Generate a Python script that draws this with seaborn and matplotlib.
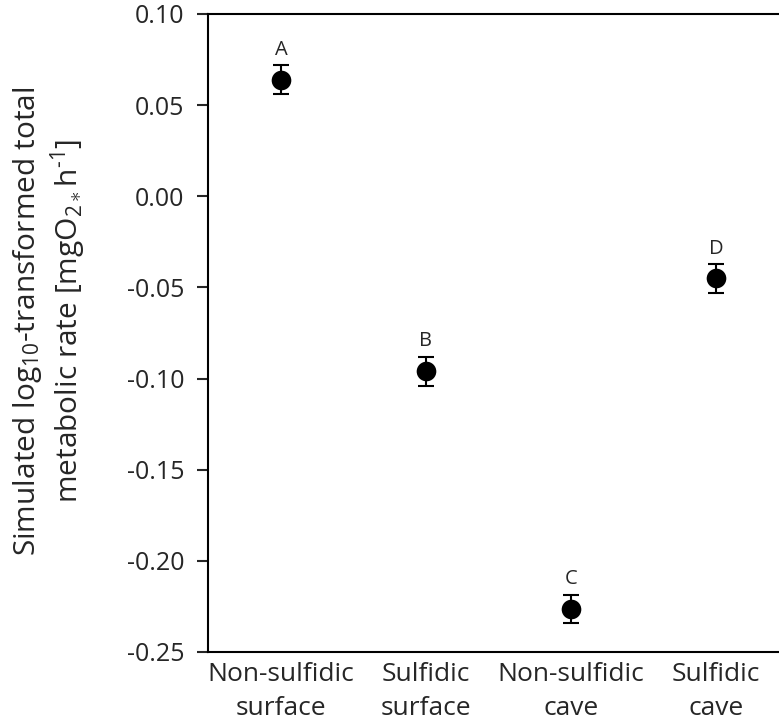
import matplotlib
matplotlib.use("Agg")
import matplotlib.pyplot as plt
import seaborn as sns
import pandas as pd

# Group summaries: simulated log10 metabolic rate (mean and error)
groups = ["Non-sulfidic\nsurface", "Sulfidic\nsurface", "Non-sulfidic\ncave", "Sulfidic\ncave"]
means = [0.0640, -0.0960, -0.2265, -0.0450]
errors = [0.0078, 0.0080, 0.0078, 0.0078]
letters = ["A", "B", "C", "D"]
yticks = [0.10, 0.05, 0.00, -0.05, -0.10, -0.15, -0.20, -0.25]

sns.set_style("ticks")
plt.rcParams["font.family"] = ["Open Sans", "DejaVu Sans"]
plt.rcParams["mathtext.fontset"] = "custom"
plt.rcParams["mathtext.rm"] = "Open Sans"
plt.rcParams["mathtext.it"] = "Open Sans:italic"
plt.rcParams["mathtext.bf"] = "Open Sans:bold"

df = pd.DataFrame({"pos": range(len(groups)), "mean": means, "err": errors})

fig = plt.figure(figsize=(7.79, 7.25), dpi=100)
ax = fig.add_axes([0.267, 0.1007, 0.733, 0.880])

ax.errorbar(df["pos"], df["mean"], yerr=df["err"], fmt="none",
            ecolor="black", elinewidth=1.5, capsize=5.8, capthick=1.5, zorder=2)
sns.scatterplot(data=df, x="pos", y="mean", ax=ax, color="black", s=200,
                edgecolor="black", linewidth=0, zorder=3, legend=False)

for p, m, e, t in zip(df["pos"], means, errors, letters):
    ax.annotate(t, (p, m + e), xytext=(0, 4), textcoords="offset points",
                ha="center", va="bottom", fontsize=14.5)

ax.set_xlim(-0.503, 3.434)
ax.set_ylim(-0.25, 0.10)
ax.set_yticks(yticks)
ax.set_yticklabels([f"{v:.2f}" for v in yticks])
ax.set_xticks(df["pos"])
ax.set_xticklabels(groups)
ax.tick_params(axis="x", length=0, pad=7, labelsize=19)
ax.tick_params(axis="y", length=8, width=1.5, direction="out", pad=9, labelsize=18)
for lab in ax.get_xticklabels():
    lab.set_linespacing(1.5)

for side in ["top", "left", "bottom"]:
    ax.spines[side].set_linewidth(1.5)
    ax.spines[side].set_color("black")
ax.spines["right"].set_visible(False)

ax.set_xlabel("")
ax.set_ylabel("")
fig.text(0.064, 0.557,
         "Simulated log$_{10}$-transformed total\nmetabolic rate [mgO$_{2\\ast}$h$^{\\text{-}1}$]",
         rotation=90, ha="center", va="center", fontsize=21.5, linespacing=1.15)

fig.savefig("out.png", dpi=100)
